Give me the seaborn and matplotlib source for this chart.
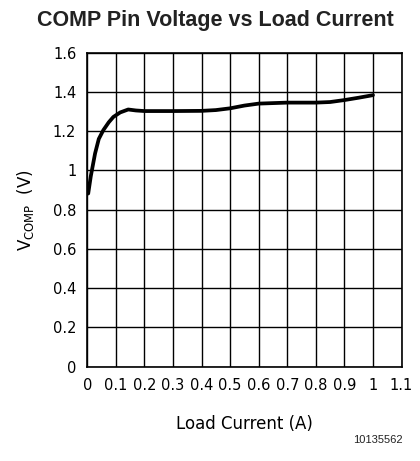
import matplotlib
matplotlib.use("Agg")
import matplotlib.pyplot as plt
import seaborn as sns
import pandas as pd

load_current = [0.003, 0.012, 0.027, 0.04, 0.056, 0.075, 0.091, 0.115, 0.143, 0.17, 0.2, 0.3, 0.4, 0.45, 0.5, 0.55, 0.6, 0.7, 0.8, 0.85, 0.9, 0.95, 1.0]
v_comp = [0.882, 0.97, 1.086, 1.16, 1.205, 1.245, 1.272, 1.295, 1.310, 1.305, 1.302, 1.302, 1.303, 1.307, 1.316, 1.330, 1.340, 1.345, 1.345, 1.348, 1.358, 1.370, 1.383]
x_ticks = [0, 0.1, 0.2, 0.3, 0.4, 0.5, 0.6, 0.7, 0.8, 0.9, 1, 1.1]
x_tick_labels = ["0", "0.1", "0.2", "0.3", "0.4", "0.5", "0.6", "0.7", "0.8", "0.9", "1", "1.1"]
y_ticks = [0, 0.2, 0.4, 0.6, 0.8, 1, 1.2, 1.4, 1.6]
y_tick_labels = ["0", "0.2", "0.4", "0.6", "0.8", "1", "1.2", "1.4", "1.6"]

sns.set_style("white")
plt.rcParams["font.family"] = ["DejaVu Sans"]

df = pd.DataFrame({"I": load_current, "V": v_comp})

fig = plt.figure(figsize=(4.2, 4.61), dpi=100)
ax = fig.add_axes([0.208, 0.2046, 0.748, 0.6814])
sns.lineplot(data=df, x="I", y="V", ax=ax, color="black", linewidth=2.7, sort=True)

ax.set_xlim(0, 1.1)
ax.set_ylim(0, 1.6)
ax.set_xticks(x_ticks)
ax.set_xticklabels(x_tick_labels)
ax.set_yticks(y_ticks)
ax.set_yticklabels(y_tick_labels)
ax.grid(True, color="black", linewidth=1.0)
for s in ax.spines.values():
    s.set_color("black")
    s.set_linewidth(1.2)
ax.tick_params(axis="both", length=0, pad=8, labelsize=10.5, colors="black")
ax.set_xlabel("Load Current (A)", fontsize=12, labelpad=16, color="black")
ax.set_ylabel(r"V$_{\mathregular{COMP}}$  (V)", fontsize=12, labelpad=12, color="black")

fig.text(0.512, 0.955, "COMP Pin Voltage vs Load Current", ha="center", va="center",
         fontsize=15.5, fontweight="bold", family="Liberation Sans", color="#222222")
fig.text(0.958, 0.045, "10135562", ha="right", va="center", fontsize=8,
         family="Liberation Sans", color="#222222")

fig.savefig("out.png", dpi=100)
